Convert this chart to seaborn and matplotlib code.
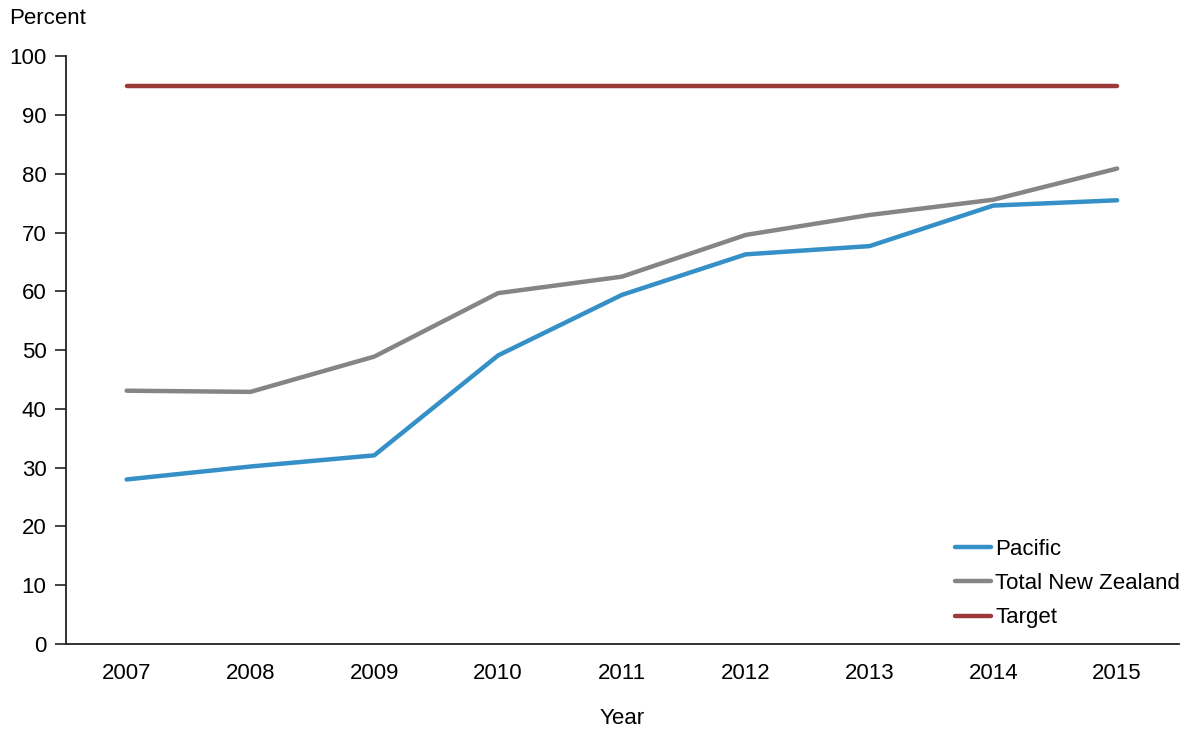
import matplotlib
matplotlib.use('Agg')
import matplotlib.pyplot as plt
import pandas as pd
import seaborn as sns

years = [2007, 2008, 2009, 2010, 2011, 2012, 2013, 2014, 2015]
pacific = [28.0, 30.2, 32.1, 49.1, 59.4, 66.3, 67.7, 74.6, 75.5]
total_nz = [43.1, 42.9, 48.9, 59.7, 62.5, 69.6, 73.0, 75.6, 80.9]
target = [95, 95, 95, 95, 95, 95, 95, 95, 95]
y_ticks = [0, 10, 20, 30, 40, 50, 60, 70, 80, 90, 100]

series_names = ['Pacific', 'Total New Zealand', 'Target']
palette = {'Pacific': '#3490c6', 'Total New Zealand': '#858585', 'Target': '#9b3838'}


def build_frame():
    frames = []
    for name, values in zip(series_names, [pacific, total_nz, target]):
        frames.append(pd.DataFrame({'year': years, 'value': values, 'series': name}))
    return pd.concat(frames, ignore_index=True)


def main():
    sns.set_style('white')
    plt.rcParams['font.family'] = ['Liberation Sans', 'DejaVu Sans']
    plt.rcParams['text.color'] = 'black'
    plt.rcParams['xtick.color'] = 'black'
    plt.rcParams['ytick.color'] = 'black'
    plt.rcParams['axes.labelcolor'] = 'black'

    df = build_frame()
    fig = plt.figure(figsize=(11.97, 7.31), dpi=100)
    ax = fig.add_axes([0.0551, 0.119, 0.9299, 0.804])

    sns.lineplot(data=df, x='year', y='value', hue='series', hue_order=series_names,
                 palette=palette, linewidth=3.2, ax=ax, sort=False)

    ax.set_xlim(years[0] - 0.49, years[-1] + 0.5)
    ax.set_ylim(0, 100)
    ax.set_xticks(years)
    ax.set_xticklabels([str(y) for y in years], fontsize=16)
    ax.set_yticks(y_ticks)
    ax.set_yticklabels([str(t) for t in y_ticks], fontsize=16)
    ax.tick_params(axis='y', left=True, direction='out', length=8, width=1.2,
                   color='#222222', pad=6)
    ax.tick_params(axis='x', bottom=False, length=0, pad=14)

    for side in ['top', 'right']:
        ax.spines[side].set_visible(False)
    for side in ['left', 'bottom']:
        ax.spines[side].set_color('#222222')
        ax.spines[side].set_linewidth(1.3)

    ax.set_xlabel('Year', fontsize=16, labelpad=17)
    ax.set_ylabel('')
    fig.text(0.008, 0.975, 'Percent', fontsize=16, ha='left', va='center')

    leg = ax.legend(loc='lower right', bbox_to_anchor=(1.015, 0.0), frameon=False, fontsize=16,
                    handlelength=1.6, handletextpad=0.2, labelspacing=0.6, borderaxespad=0.3)
    for line in leg.get_lines():
        line.set_linewidth(3.2)

    fig.savefig('out.png', dpi=100)
    plt.close(fig)


if __name__ == '__main__':
    main()
